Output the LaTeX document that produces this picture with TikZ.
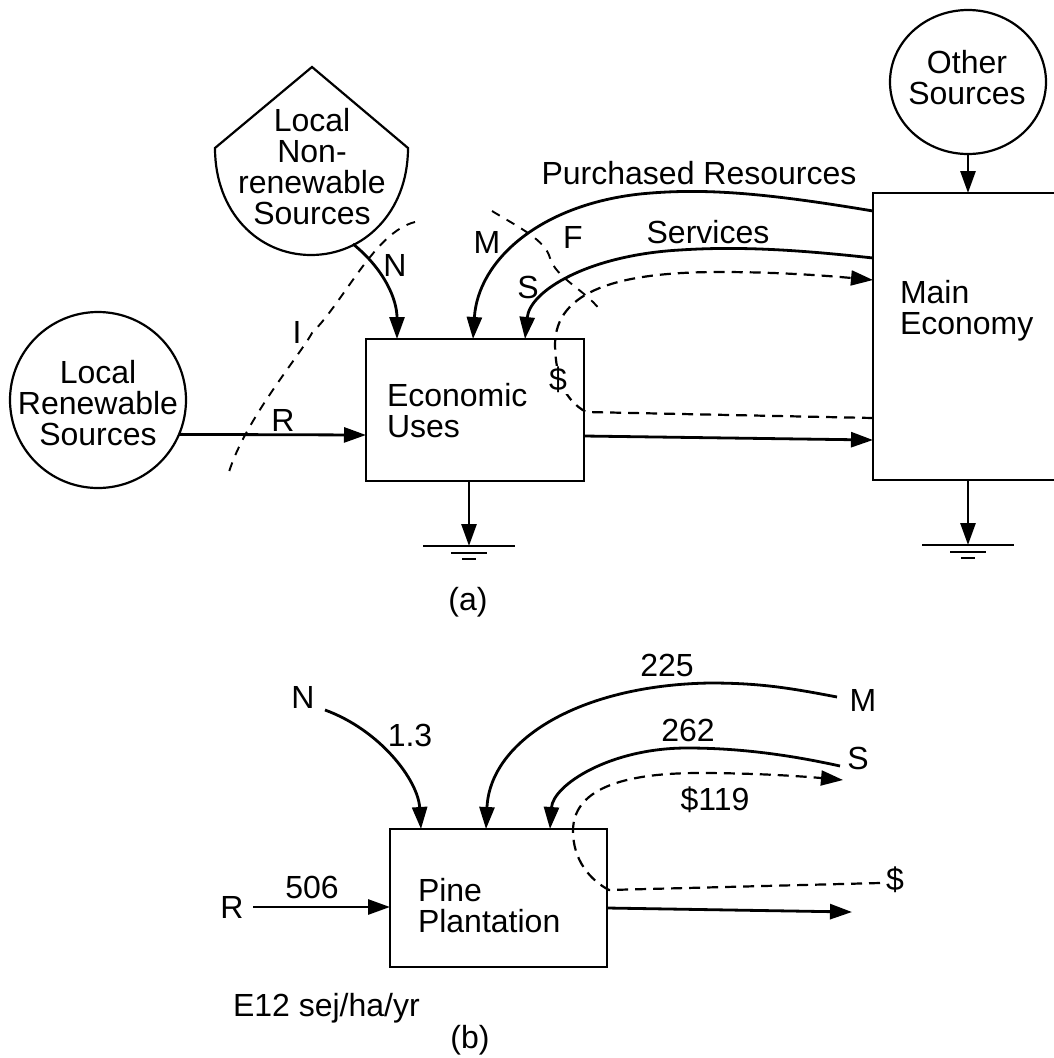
\documentclass[tikz,border=0pt]{standalone}
\usepackage{fontspec}
\setmainfont{Liberation Sans}
\usetikzlibrary{arrows.meta,shapes.geometric}
\begin{document}
\begin{tikzpicture}[x=1pt,y=-1pt,
  font=\fontsize{32}{31}\selectfont,
  lbl/.style={inner sep=0pt, outer sep=0pt},
  tip/.style={-{Triangle[length=22pt,width=15pt]}},
  line/.style={line width=2.8pt},
  flow/.style={line, tip},
  money/.style={line width=2.2pt, dash pattern=on 11pt off 7pt},
  moneyarrow/.style={money, tip},
  boundary/.style={line width=1.9pt, dash pattern=on 9pt off 8pt},
  box/.style={draw, line width=2.8pt, rectangle, inner sep=0pt, outer sep=0pt},
  src/.style={draw, line width=2.2pt, inner sep=0pt, outer sep=0pt},
  ground/.pic={
    \draw[line width=1.9pt] (-46,0) -- (46,0);
    \draw[line width=1.9pt] (-18,7) -- (18,7);
    \draw[line width=1.9pt] (-7,13) -- (7,13);
  }
]
\useasboundingbox (0,0) rectangle (1054,1058);

% ---------------- panel (a) ----------------
% sources
\node[src, circle, minimum size=176pt] (lrs) at (98,400) {};
\node[lbl, align=center] (lrs-t) at (98,403) {Local\\Renewable\\Sources};

\draw[src] (215,148) -- (312,67) -- (408,148)
  .. controls (408,212) and (364,255) .. (311,255)
  .. controls (258,255) and (215,212) .. (215,148) -- cycle;
\node[lbl, align=center] (lnr) at (312,167) {Local\\Non-\\renewable\\Sources};

\node[src, ellipse, minimum width=156pt, minimum height=144pt] (os) at (968,82) {};
\node[lbl, align=center] (os-t) at (967,78) {Other\\Sources};

% boxes
\node[box, minimum width=218pt, minimum height=142pt] (eu) at (475,410) {};
\node[lbl, align=left, anchor=west] (eu-t) at (387,411) {Economic\\Uses};

\node[rectangle, inner sep=0pt, outer sep=0pt, minimum width=181pt, minimum height=287pt, anchor=north west] (me) at (873,193) {};
\draw[line] (me.north east) -- (me.north west) -- (me.south west) -- (me.south east);
\node[lbl, align=left, anchor=west] (me-t) at (900,311) {Main\\Economy};

% connector end points
\coordinate (lrs-e) at (lrs.-23.7);
\coordinate (lnr-s) at (353,244);
\coordinate (eu-n1) at (397,339);
\coordinate (eu-n2) at (473,339);
\coordinate (eu-n3) at (525,339);
\coordinate (eu-w) at (366,435);
\coordinate (eu-e1) at (584,436);
\coordinate (eu-e2) at (586,412);
\coordinate (eu-s) at (469,481);
\coordinate (me-w1) at (873,211);
\coordinate (me-w2) at (873,258);
\coordinate (me-w3) at (873,280);
\coordinate (me-w4) at (873,418);
\coordinate (me-w5) at (873,440);
\coordinate (me-n) at (968,193);
\coordinate (me-s) at (968,480);
\coordinate (ga) at (469,546);
\coordinate (gb) at (968,545);

% flows
\draw[flow] (lrs-e) -- (eu-w);
\draw[flow] (lnr-s) .. controls (385,270) and (397,300) .. (eu-n1);
\draw[flow] (me-w1) .. controls (760,192) and (700,188) .. (640,194)
  .. controls (540,205) and (478,260) .. (eu-n2);
\draw[flow] (me-w2) .. controls (800,250) and (740,246) .. (680,250)
  .. controls (590,255) and (530,290) .. (eu-n3);
\draw[flow] (eu-e1) -- (me-w5);
\draw[flow] (os.south) -- (me-n);
\draw[flow] (eu-s) -- (ga);
\draw[flow] (me-s) -- (gb);
\pic at (ga) {ground};
\pic at (gb) {ground};

\draw[moneyarrow] (me-w4) -- (eu-e2)
  .. controls (565,400) and (556,380) .. (555,345)
  .. controls (555,290) and (620,272) .. (720,272)
  .. controls (780,272) and (830,276) .. (me-w3);

% boundaries
\draw[boundary] (415,222) .. controls (375,232) and (345,300) .. (312,333)
  .. controls (300,355) and (245,420) .. (229,472);
\draw[boundary] (492,211) .. controls (520,228) and (545,240) .. (550,258)
  .. controls (556,278) and (585,290) .. (600,310);

% labels
\node[lbl] (l-pr) at (699,173) {Purchased Resources};
\node[lbl] (l-sv) at (708,232) {Services};
\node[lbl] (l-n) at (395,265) {N};
\node[lbl] (l-m) at (487,242) {M};
\node[lbl] (l-f) at (573,237) {F};
\node[lbl] (l-s) at (528,287) {S};
\node[lbl] (l-i) at (297,332) {I};
\node[lbl] (l-r) at (283,420) {R};
\node[lbl, fill=white, inner sep=1pt] (l-d) at (558,380) {\$};
\node[lbl] (l-a) at (468,602) {(a)};

% ---------------- panel (b) ----------------
\node[box, minimum width=217pt, minimum height=138pt] (pp) at (498.5,898) {};
\node[lbl, align=left, anchor=west] (pp-t) at (418,906) {Pine\\Plantation};

\node[lbl] (b-n) at (303,697) {N};
\node[lbl] (b-m) at (863,700) {M};
\node[lbl] (b-s) at (858,758) {S};
\node[lbl] (b-r) at (232,907) {R};
\node[lbl] (b-d) at (895,880) {\$};
\node[lbl] (b-13) at (410,735) {1.3};
\node[lbl] (b-225) at (667,665) {225};
\node[lbl] (b-262) at (688,730) {262};
\node[lbl] (b-119) at (715,800) {\$119};
\node[lbl] (b-506) at (312,887) {506};
\node[lbl, anchor=west] (b-unit) at (233,1008) {E12 sej/ha/yr};
\node[lbl] (l-b) at (470,1040) {(b)};

\coordinate (pp-n1) at (421,829);
\coordinate (pp-n2) at (486,829);
\coordinate (pp-n3) at (550,829);
\coordinate (pp-w) at (390,907);
\coordinate (pp-e1) at (607,908);
\coordinate (pp-e2) at (609,890);
\coordinate (b-n0) at (325,710);
\coordinate (b-m0) at (837,697);
\coordinate (b-s0) at (840,766);
\coordinate (b-s1) at (843,780);
\coordinate (b-d0) at (880,883);
\coordinate (b-r0) at (253,907);
\coordinate (b-out) at (852,912);

\draw[flow] (b-r0) -- (pp-w);
\draw[flow] (b-n0) .. controls (380,730) and (418,780) .. (pp-n1);
\draw[flow] (b-m0) .. controls (790,688) and (760,683) .. (710,683)
  .. controls (580,685) and (490,740) .. (pp-n2);
\draw[flow] (b-s0) .. controls (790,755) and (740,748) .. (687,748)
  .. controls (610,748) and (553,785) .. (pp-n3);
\draw[flow] (pp-e1) -- (b-out);
\draw[moneyarrow] (b-d0) -- (pp-e2)
  .. controls (590,880) and (573,860) .. (573,831)
  .. controls (573,790) and (620,773) .. (700,773)
  .. controls (760,773) and (810,777) .. (b-s1);
\end{tikzpicture}
\end{document}
